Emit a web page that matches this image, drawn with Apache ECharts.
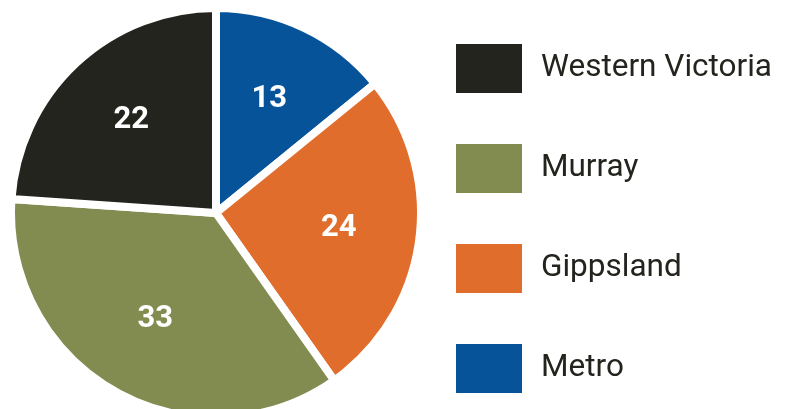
<!DOCTYPE html>
<html>
<head>
<meta charset="utf-8">
<script src="https://cdn.jsdelivr.net/npm/echarts@6/dist/echarts.min.js"></script>
<style>
  html, body { margin: 0; padding: 0; background: #fff; }
  #chart { width: 792px; height: 409px; }
</style>
</head>
<body>
<div id="chart"></div>
<script>
// slices in drawing order (clockwise from 12 o'clock)
const regions = ["Metro", "Gippsland", "Murray", "Western Victoria"];
const counts = [13, 24, 33, 22];
const colors = ["#075399", "#e06d2b", "#838c50", "#23241e"];
// legend order as shown
const legendOrder = ["Western Victoria", "Murray", "Gippsland", "Metro"];

const chart = echarts.init(document.getElementById("chart"));

const sliceData = regions.map((name, i) => ({
  name,
  value: counts[i],
  itemStyle: { color: colors[i] },
}));

chart.setOption({
  backgroundColor: "#fff",
  animation: false,
  legend: {
    data: legendOrder,
    orient: "vertical",
    left: 449,
    top: 37,
    icon: "rect",
    itemWidth: 68,
    itemHeight: 51,
    itemGap: 47,
    textStyle: {
      fontFamily: "Roboto",
      fontSize: 31.5,
      color: "#23241e",
      padding: [0, 0, 0, 13],
    },
  },
  series: [
    {
      name: "regions",
      type: "pie",
      center: [216, 213],
      radius: [0, 205],
      startAngle: 90,
      clockwise: true,
      label: { show: false },
      labelLine: { show: false },
      itemStyle: { borderColor: "#fff", borderWidth: 8 },
      emphasis: { disabled: true },
      data: sliceData,
    },
    {
      // label-only layer so numbers sit at ~0.6 of the radius
      name: "labels",
      type: "pie",
      center: [216, 211],
      radius: [0, 242],
      startAngle: 90,
      clockwise: true,
      silent: true,
      itemStyle: { color: "transparent", borderWidth: 0 },
      label: {
        show: true,
        position: "inside",
        formatter: "{c}",
        fontFamily: "Roboto",
        fontWeight: "bold",
        fontSize: 31,
        color: "#fff",
      },
      labelLine: { show: false },
      emphasis: { disabled: true },
      data: regions.map((name, i) => ({ name, value: counts[i] })),
    },
  ],
});
</script>
</body>
</html>
